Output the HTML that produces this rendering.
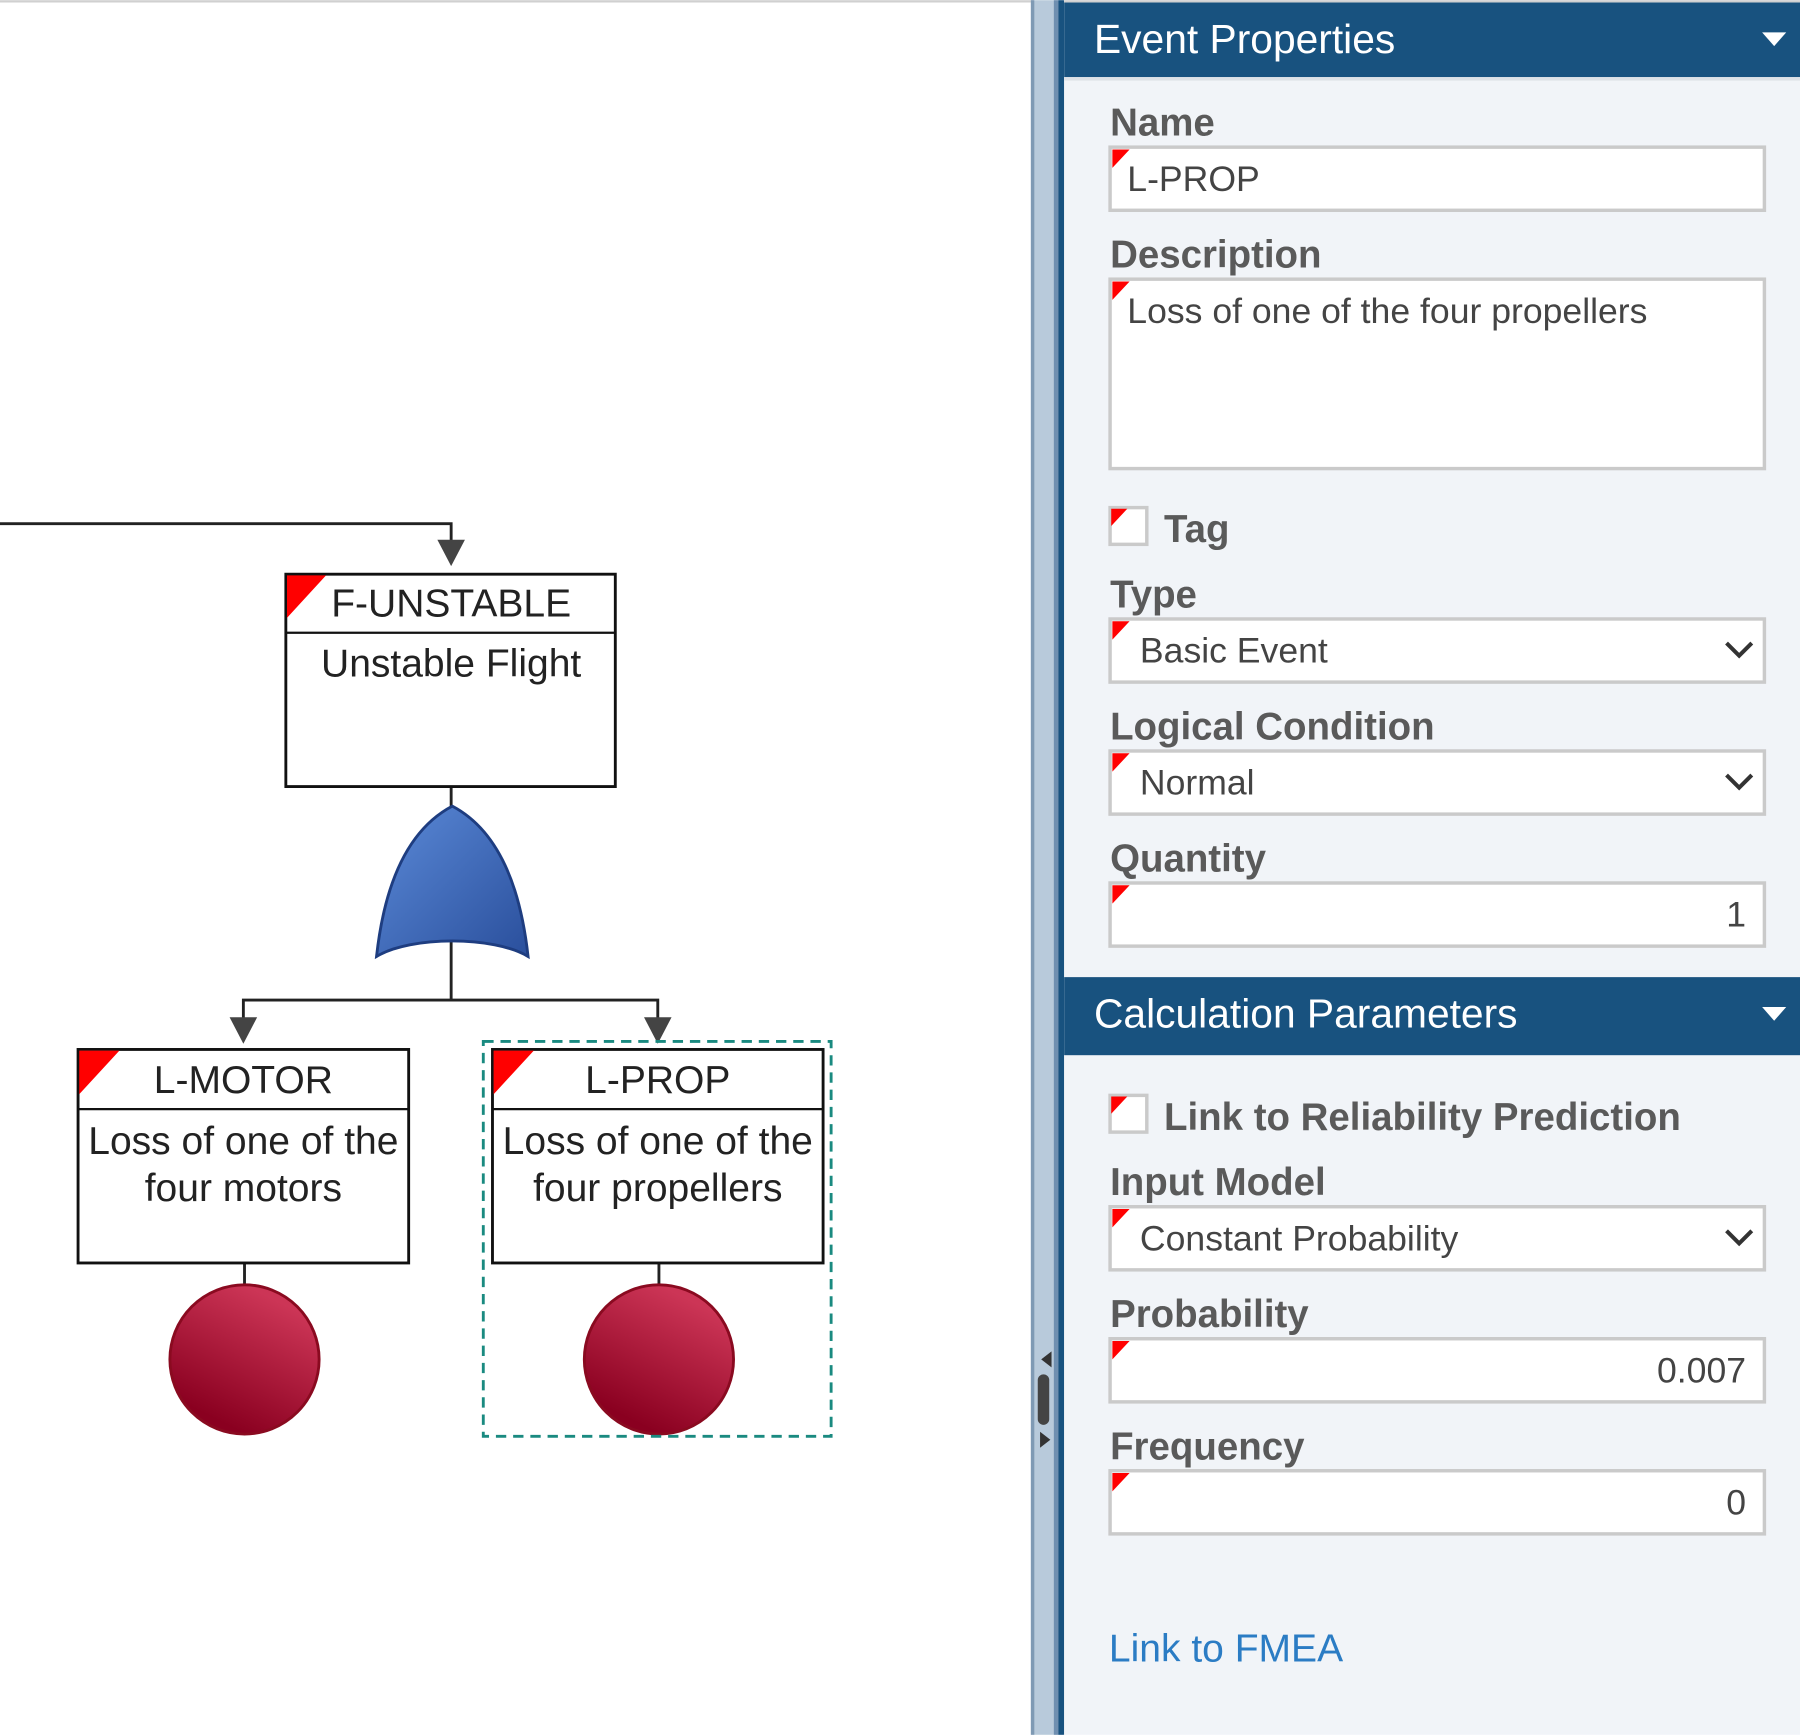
<!DOCTYPE html>
<html><head><meta charset="utf-8"><style>html,body{margin:0;padding:0;background:#fff}svg{display:block}</style></head>
<body>
<svg width="1800" height="1735" viewBox="0 0 1568 1511" xmlns="http://www.w3.org/2000/svg" font-family="Liberation Sans, Arial, sans-serif">
<defs>
<linearGradient id="gg" x1="0" y1="0" x2="1" y2="1"><stop offset="0" stop-color="#5b8ad8"/><stop offset="1" stop-color="#2a4f9c"/></linearGradient>
<linearGradient id="rg" x1="0.7" y1="0.1" x2="0.3" y2="0.9"><stop offset="0" stop-color="#cc3556"/><stop offset="1" stop-color="#8a0020"/></linearGradient>
</defs>
<rect width="1568" height="1511" fill="#fff"/>
<rect x="0" y="0" width="900" height="2" fill="#d0d0d0"/>
<g stroke="#222" stroke-width="2.5" fill="none">
<polyline points="0,456 393,456 393,472"/>
<line x1="393" y1="685" x2="393" y2="704"/>
<line x1="393" y1="818" x2="393" y2="871"/>
<polyline points="212,888 212,871 573,871 573,888"/>
<line x1="213" y1="1100" x2="213" y2="1120"/>
<line x1="574" y1="1100" x2="574" y2="1120"/>
</g>
<g fill="#444">
<polygon points="381,470 405,470 393,493"/>
<polygon points="200,886 224,886 212,909"/>
<polygon points="561,886 585,886 573,909"/>
</g>
<rect x="249" y="500" width="287" height="185" fill="#fff" stroke="#111" stroke-width="2.5"/>
<line x1="249" y1="551" x2="536" y2="551" stroke="#111" stroke-width="2"/>
<polygon points="250,501 284,501 250,538" fill="#f00"/>
<text x="393" y="537" font-size="34" text-anchor="middle" fill="#222">F-UNSTABLE</text>
<text x="393" y="589" font-size="34" text-anchor="middle" fill="#222">Unstable Flight</text>
<path d="M328,833 C336,760 360,720 394,702 C428,720 452,760 460,833 C430,815 358,815 328,833 Z" fill="url(#gg)" stroke="#1e3d80" stroke-width="2.5"/>
<rect x="68" y="914" width="288" height="186" fill="#fff" stroke="#111" stroke-width="2.5"/>
<line x1="68" y1="966" x2="356" y2="966" stroke="#111" stroke-width="2"/>
<polygon points="69,915 104,915 69,953" fill="#f00"/>
<text x="212" y="952" font-size="34" text-anchor="middle" fill="#222">L-MOTOR</text>
<text x="212" y="1005" font-size="34" text-anchor="middle" fill="#222">Loss of one of the</text>
<text x="212" y="1046" font-size="34" text-anchor="middle" fill="#222">four motors</text>
<circle cx="213" cy="1184" r="65" fill="url(#rg)" stroke="#8a0a20" stroke-width="2.5"/>
<rect x="429" y="914" width="288" height="186" fill="#fff" stroke="#111" stroke-width="2.5"/>
<line x1="429" y1="966" x2="717" y2="966" stroke="#111" stroke-width="2"/>
<polygon points="430,915 465,915 430,953" fill="#f00"/>
<text x="573" y="952" font-size="34" text-anchor="middle" fill="#222">L-PROP</text>
<text x="573" y="1005" font-size="34" text-anchor="middle" fill="#222">Loss of one of the</text>
<text x="573" y="1046" font-size="34" text-anchor="middle" fill="#222">four propellers</text>
<circle cx="574" cy="1184" r="65" fill="url(#rg)" stroke="#8a0a20" stroke-width="2.5"/>
<rect x="421" y="907" width="303" height="344" fill="none" stroke="#1a8a80" stroke-width="2.5" stroke-dasharray="9,6"/>
<rect x="898" y="0" width="28" height="1511" fill="#b8cadb"/>
<rect x="898" y="0" width="3" height="1511" fill="#7f9ab4"/>
<rect x="918" y="0" width="4" height="1511" fill="#6f8fb0"/>
<rect x="922" y="0" width="5" height="1511" fill="#18527f"/>
<polygon points="916,1177 916,1191 907,1184" fill="#333"/>
<rect x="904" y="1197" width="10" height="44" rx="5" fill="#444"/>
<polygon points="906,1247 906,1261 915,1254" fill="#333"/>
<rect x="927" y="0" width="641" height="1511" fill="#f1f4f8"/>
<rect x="927" y="0" width="641" height="2" fill="#d0d0d0"/>
<rect x="927" y="2" width="641" height="65" fill="#18527f"/>
<rect x="927" y="67" width="641" height="3" fill="#dde2e7"/>
<text x="953" y="46" font-size="35.5" fill="#fff">Event Properties</text>
<polygon points="1535,28 1556,28 1545.5,40" fill="#fff"/>
<g font-size="33.5" font-weight="bold" fill="#5a5a5a">
<text x="967" y="118">Name</text>
<text x="967" y="233">Description</text>
<text x="1014" y="472">Tag</text>
<text x="967" y="529">Type</text>
<text x="967" y="644">Logical Condition</text>
<text x="967" y="759">Quantity</text>
<text x="1014" y="984">Link to Reliability Prediction</text>
<text x="967" y="1041">Input Model</text>
<text x="967" y="1156">Probability</text>
<text x="967" y="1271">Frequency</text>
</g>
<g fill="#fff" stroke="#cacaca" stroke-width="3">
<rect x="967" y="128" width="570" height="55"/>
<rect x="967" y="243" width="570" height="165"/>
<rect x="967" y="442" width="32" height="32"/>
<rect x="967" y="539" width="570" height="55"/>
<rect x="967" y="654" width="570" height="55"/>
<rect x="967" y="769" width="570" height="55"/>
<rect x="967" y="954" width="32" height="32"/>
<rect x="967" y="1051" width="570" height="55"/>
<rect x="967" y="1166" width="570" height="55"/>
<rect x="967" y="1281" width="570" height="55"/>
</g>
<g fill="#f00">
<polygon points="969,130 984,130 969,146"/>
<polygon points="969,245 984,245 969,261"/>
<polygon points="968,443 982,443 968,458"/>
<polygon points="969,541 984,541 969,557"/>
<polygon points="969,656 984,656 969,672"/>
<polygon points="969,771 984,771 969,787"/>
<polygon points="968,955 982,955 968,970"/>
<polygon points="969,1053 984,1053 969,1069"/>
<polygon points="969,1168 984,1168 969,1184"/>
<polygon points="969,1283 984,1283 969,1299"/>
</g>
<g font-size="31" fill="#444">
<text x="982" y="166">L-PROP</text>
<text x="982" y="281">Loss of one of the four propellers</text>
<text x="993" y="577">Basic Event</text>
<text x="993" y="692">Normal</text>
<text x="1521" y="807" text-anchor="end">1</text>
<text x="993" y="1089">Constant Probability</text>
<text x="1521" y="1204" text-anchor="end">0.007</text>
<text x="1521" y="1319" text-anchor="end">0</text>
</g>
<g fill="none" stroke="#333" stroke-width="3.5">
<polyline points="1504,560 1515,571 1526,560"/>
<polyline points="1504,675 1515,686 1526,675"/>
<polyline points="1504,1072 1515,1083 1526,1072"/>
</g>
<rect x="927" y="851" width="641" height="68" fill="#18527f"/>
<text x="953" y="895" font-size="35.5" fill="#fff">Calculation Parameters</text>
<polygon points="1535,877 1556,877 1545.5,889" fill="#fff"/>
<text x="966" y="1447" font-size="34" fill="#2b7cc4">Link to FMEA</text>
</svg>
</body></html>
